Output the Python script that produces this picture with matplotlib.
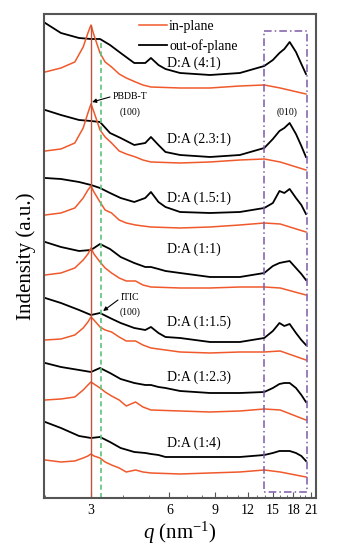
import numpy as np
import matplotlib.pyplot as plt

plt.rcParams['font.family'] = ['Liberation Serif', 'DejaVu Serif']
plt.rcParams['mathtext.fontset'] = 'custom'
plt.rcParams['mathtext.rm'] = 'Liberation Serif'
plt.rcParams['mathtext.it'] = 'Liberation Serif:italic'

# q values (nm^-1) at which the traces were read
q_out = [2.0, 2.3, 2.7, 3.0, 3.25, 3.55, 3.9, 4.4, 4.85, 5.1, 5.45, 5.8, 6.6,
         8.6, 11.2, 13.9, 15.0, 15.9, 16.6, 17.4, 18.4, 19.3, 20.1]
q_in = [2.0, 2.3, 2.6, 2.8, 2.92, 3.0, 3.08, 3.25, 3.4, 3.6, 3.85, 4.1, 4.45,
        4.75, 5.1, 6.6, 8.6, 11.2, 13.9, 16.0, 20.1]

ratios = ["4:1", "2.3:1", "1.5:1", "1:1", "1:1.5", "1:2.3", "1:4"]

# stacked traces (a.u., offset per blend; axis drawn top-down)
out_plane = [
    [23, 33, 38, 39, 39, 45, 53, 63, 63, 58, 65, 69, 73, 75, 73, 66, 60, 53, 49, 42, 52, 64, 74],
    [110, 115, 120, 121, 122, 133, 138, 145, 143, 137, 145, 152, 155, 157, 155, 148, 139, 131, 128, 123, 134, 146, 157],
    [178, 179, 182, 185, 188, 193, 198, 202, 198, 192, 202, 207, 212, 213, 212, 208, 203, 191, 193, 189, 198, 205, 214],
    [242, 247, 251, 250, 244, 249, 257, 263, 267, 267, 269, 271, 273, 277, 277, 273, 266, 263, 262, 261, 268, 274, 280],
    [298, 303, 310, 315, 313, 318, 323, 328, 330, 327, 333, 337, 338, 342, 342, 338, 331, 323, 326, 324, 333, 340, 345],
    [363, 367, 370, 372, 368, 373, 379, 383, 385, 385, 387, 388, 391, 393, 393, 392, 388, 384, 383, 383, 388, 395, 402],
    [422, 428, 436, 438, 437, 442, 448, 452, 453, 454, 455, 457, 457, 457, 457, 455, 453, 451, 451, 451, 453, 456, 461],
]
in_plane = [
    [72, 68, 62, 47, 33, 25, 35, 53, 62, 67, 74, 78, 82, 85, 87, 88, 88, 86, 85, 88, 94],
    [151, 149, 143, 128, 113, 104, 112, 130, 137, 143, 151, 154, 157, 160, 162, 163, 162, 160, 159, 162, 170],
    [215, 213, 208, 198, 190, 186, 192, 202, 210, 213, 220, 223, 225, 226, 227, 228, 227, 225, 223, 224, 232],
    [275, 273, 268, 260, 254, 248, 254, 262, 268, 273, 278, 281, 281, 285, 287, 288, 288, 287, 287, 288, 295],
    [340, 339, 335, 328, 322, 317, 320, 327, 330, 332, 337, 341, 341, 345, 348, 352, 353, 352, 352, 351, 360],
    [400, 399, 397, 390, 385, 382, 384, 388, 392, 396, 400, 406, 402, 407, 410, 411, 412, 411, 409, 410, 420],
    [460, 462, 461, 458, 456, 454, 456, 458, 462, 465, 468, 472, 470, 472, 473, 474, 473, 472, 470, 472, 477],
]

q_pbdb = 3.0    # PBDB-T (100)
q_itic = 3.28   # ITIC (100)
box_q = (13.9, 20.3)  # (010) region

major_ticks = [3, 6, 9, 12, 15, 18, 21]

red = '#f0592b'

fig = plt.figure(figsize=(3.37, 5.51), dpi=100)
ax = fig.add_axes([0.1306, 0.0962, 0.8071, 0.8784])

for k in range(len(ratios)):
    ln_out, = ax.plot(q_out, out_plane[k], color='black', lw=1.3,
                      solid_joinstyle='round')
    ln_in, = ax.plot(q_in, in_plane[k], color=red, lw=1.1,
                     solid_joinstyle='round')

# reference lines
ax.vlines(q_pbdb, 25, 498, color='#c0543c', lw=1.0)
ax.vlines(q_itic, 43, 498, color='#5cc27a', lw=1.2, linestyles=(0, (3, 2)))

# (010) box
ax.plot([box_q[0], box_q[1], box_q[1], box_q[0], box_q[0]],
        [31, 31, 492, 492, 31],
        color='#7d5aa8', lw=1.1, ls=(0, (5, 2, 1, 2)))

label_y = [63, 139, 198, 249, 322, 377, 443]
for r, y in zip(ratios, label_y):
    ax.text(5.88, y, f"D:A ({r})", fontsize=10, va='center', ha='left')

# annotations
ax.annotate("", xy=(3.03, 102), xytext=(3.55, 97),
            arrowprops=dict(arrowstyle='-|>', color='black', lw=0.8,
                            mutation_scale=6, shrinkA=0, shrinkB=0))
ax.text(4.22, 97, "PBDB-T", fontsize=7, ha='center', va='center')
ax.text(4.24, 112, "(100)", fontsize=7, ha='center', va='center')

ax.annotate("", xy=(3.34, 311), xytext=(3.81, 300),
            arrowprops=dict(arrowstyle='-|>', color='black', lw=0.8,
                            mutation_scale=6, shrinkA=0, shrinkB=0))
ax.text(4.24, 298, "ITIC", fontsize=7, ha='center', va='center')
ax.text(4.24, 312, "(100)", fontsize=7, ha='center', va='center')

ax.text(17.0, 112, "(010)", fontsize=7, ha='center', va='center')

ax.legend(handles=[ln_in, ln_out], labels=['in-plane', 'out-of-plane'],
          loc='upper left', bbox_to_anchor=(0.345, 0.99), frameon=False,
          fontsize=10, handlelength=2.0, handletextpad=0.15,
          borderpad=0.1, borderaxespad=0, labelspacing=0.4)

ax.set_xscale('log')
ax.set_xlim(1.98, 21.97)
ax.set_ylim(498, 14)
ax.set_xticks(major_ticks)
ax.set_xticklabels([str(t) for t in major_ticks])
ax.set_xticks([t for t in range(2, 22) if t not in major_ticks], minor=True)
ax.set_xticklabels([], minor=True)
ax.tick_params(axis='x', which='major', direction='in', length=4, labelsize=10,
               pad=4, color='#555555')
ax.tick_params(axis='x', which='minor', direction='in', length=2, color='#555555')
ax.set_yticks([])

for s in ax.spines.values():
    s.set_color('#555555')
    s.set_linewidth(1.5)

ax.set_xlabel(r"$q$ (nm$^{-1}$)", fontsize=15, labelpad=2)
ax.set_ylabel("Indensity (a.u.)", fontsize=15, labelpad=6)

fig.savefig('out.png', dpi=100)
